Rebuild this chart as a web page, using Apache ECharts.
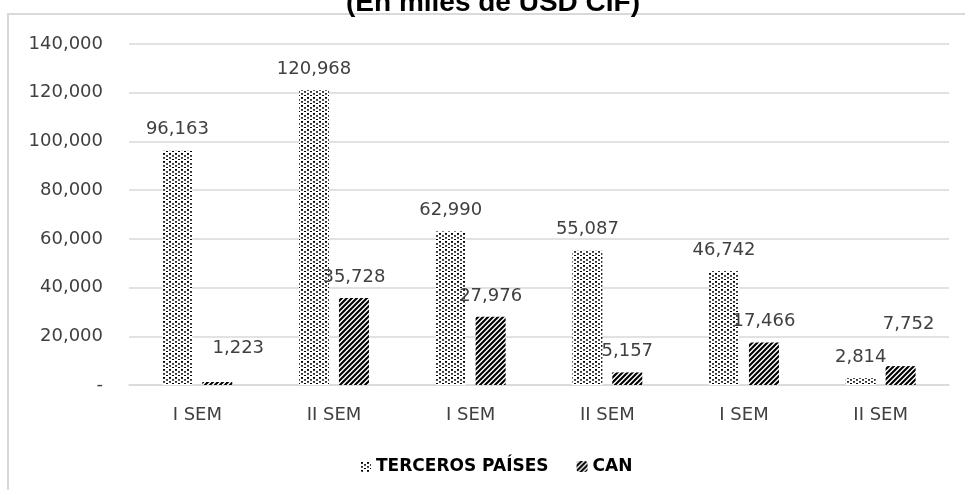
<!DOCTYPE html>
<html>
<head>
<meta charset="utf-8">
<script src="https://cdn.jsdelivr.net/npm/echarts@6/dist/echarts.min.js"></script>
<style>
  html, body { margin: 0; padding: 0; background: #fff; }
  #main { width: 965px; height: 490px; }
</style>
</head>
<body>
<div id="main"></div>
<script>
const categories = ["I SEM", "II SEM", "I SEM", "II SEM", "I SEM", "II SEM"];
const terceros = [96163, 120968, 62990, 55087, 46742, 2814];
const can = [1223, 35728, 27976, 5157, 17466, 7752];
const yTicks = [0, 20000, 40000, 60000, 80000, 100000, 120000, 140000];

// patterns for the bars
function dotPattern() {
	const c = document.createElement("canvas");
	c.width = 6;
	c.height = 8;
	const ctx = c.getContext("2d");
	ctx.fillStyle = "#fff";
	ctx.fillRect(0, 0, 6, 8);
	const dots = [
		[1, 1, "#000"],
		[4, 3, "#333"],
		[1, 5, "#333"],
		[4, 7, "#000"],
	];
	dots.forEach(([x, y, col]) => {
		ctx.fillStyle = col;
		ctx.fillRect(x, y, 2, 1.8);
	});
	return c;
}

function stripePattern() {
	const s = 5;
	const c = document.createElement("canvas");
	c.width = s;
	c.height = s;
	const ctx = c.getContext("2d");
	ctx.fillStyle = "#fff";
	ctx.fillRect(0, 0, s, s);
	ctx.strokeStyle = "#000";
	ctx.lineWidth = 2.1;
	ctx.beginPath();
	ctx.moveTo(-1, 1);
	ctx.lineTo(1, -1);
	ctx.moveTo(0, s);
	ctx.lineTo(s, 0);
	ctx.moveTo(s - 1, s + 1);
	ctx.lineTo(s + 1, s - 1);
	ctx.stroke();
	return c;
}

const dotFill = { image: dotPattern(), repeat: "repeat" };
const stripeFill = { image: stripePattern(), repeat: "repeat" };

const fontFam = "'DejaVu Sans', sans-serif";

const labelBase = {
	show: true,
	position: "top",
	distance: 12,
	color: "#404040",
	fontSize: 18,
	fontFamily: fontFam,
	formatter: (p) => p.value.toLocaleString("en-US"),
};

// some labels in the CAN series were moved by hand
const canData = can.map((v, i) => {
	if (i === 0) return { value: v, label: { offset: [21, -13] } };
	if (i === 5) return { value: v, label: { offset: [8, -21] } };
	return v;
});

const chart = echarts.init(document.getElementById("main"));

chart.setOption({
	animation: false,
	title: {
		text: "(En miles de USD CIF)",
		left: 341,
		top: -16,
		textStyle: {
			fontFamily: "'Liberation Sans', Arial, sans-serif",
			fontWeight: "bold",
			fontSize: 28,
			color: "#000",
		},
	},
	graphic: [
		{
			type: "rect",
			shape: { x: 8, y: 14, width: 1000, height: 600 },
			style: { fill: "none", stroke: "#d9d9d9", lineWidth: 2 },
			silent: true,
			z: -1,
		},
	],
	grid: { left: 129, right: 16, top: 44, bottom: 105 },
	legend: {
		top: 453,
		left: 355,
		itemWidth: 11,
		itemHeight: 11,
		itemGap: 28,
		textStyle: {
			fontFamily: fontFam,
			fontWeight: "bold",
			fontSize: 17,
			color: "#000",
		},
		data: ["TERCEROS PAÍSES", "CAN"],
	},
	xAxis: {
		type: "category",
		data: categories,
		axisLine: { lineStyle: { color: "#d9d9d9", width: 1.5 } },
		axisTick: { show: false },
		axisLabel: {
			margin: 21,
			color: "#404040",
			fontSize: 18,
			fontFamily: fontFam,
		},
	},
	yAxis: {
		type: "value",
		min: yTicks[0],
		max: yTicks[yTicks.length - 1],
		interval: yTicks[1] - yTicks[0],
		axisLine: { show: false },
		axisTick: { show: false },
		splitLine: { lineStyle: { color: "#d9d9d9", width: 1.5 } },
		axisLabel: {
			margin: 26,
			color: "#404040",
			fontSize: 18,
			fontFamily: fontFam,
			formatter: (v) => (v === 0 ? "-" : v.toLocaleString("en-US")),
		},
	},
	series: [
		{
			name: "TERCEROS PAÍSES",
			type: "bar",
			data: terceros,
			barWidth: 30,
			barGap: "33%",
			itemStyle: { color: dotFill },
			label: labelBase,
		},
		{
			name: "CAN",
			type: "bar",
			data: canData,
			barWidth: 30,
			itemStyle: { color: stripeFill },
			label: labelBase,
		},
	],
});
</script>
</body>
</html>
